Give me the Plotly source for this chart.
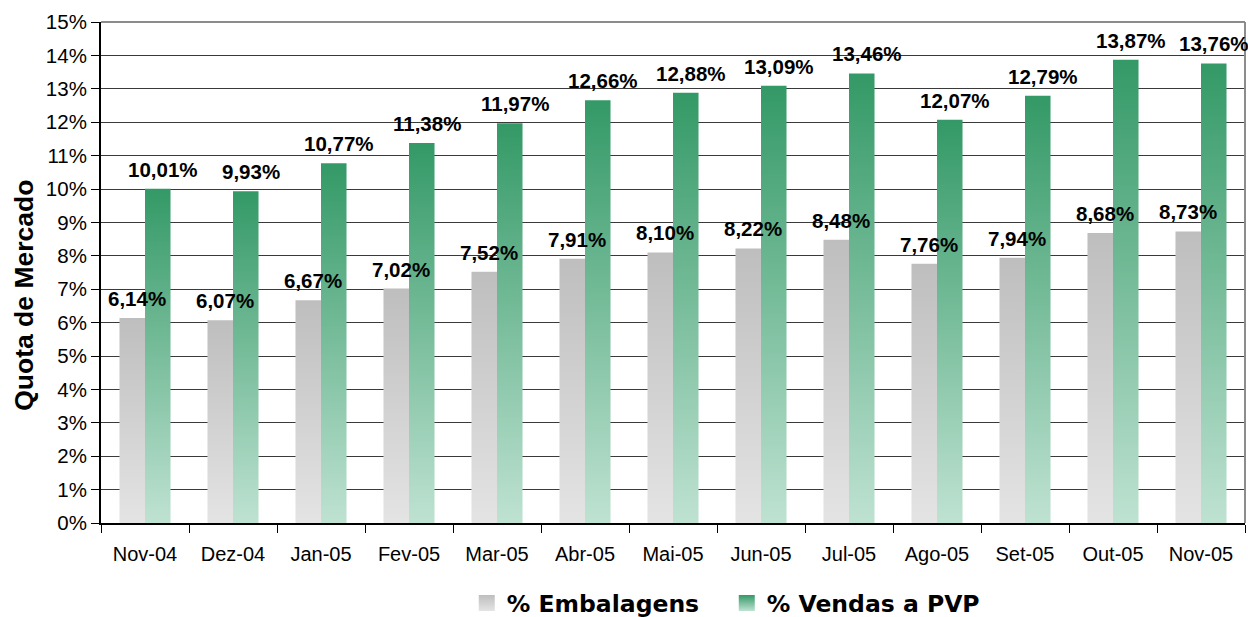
import plotly.graph_objects as go

categories = ["Nov-04", "Dez-04", "Jan-05", "Fev-05", "Mar-05", "Abr-05", "Mai-05",
              "Jun-05", "Jul-05", "Ago-05", "Set-05", "Out-05", "Nov-05"]
embalagens = [6.14, 6.07, 6.67, 7.02, 7.52, 7.91, 8.10, 8.22, 8.48, 7.76, 7.94, 8.68, 8.73]
vendas_pvp = [10.01, 9.93, 10.77, 11.38, 11.97, 12.66, 12.88, 13.09, 13.46, 12.07, 12.79, 13.87, 13.76]
y_ticks = list(range(0, 16))
y_tick_labels = [f"{t}%" for t in y_ticks]

series = [
    dict(name="% Embalagens", values=embalagens, offset=-0.145,
         top="#bebebe", bottom="#e4e4e4"),
    dict(name="% Vendas a PVP", values=vendas_pvp, offset=0.145,
         top="#339966", bottom="#bfe2d2"),
]
bar_w = 0.29

fig = go.Figure()
for s in series:
    for i, v in enumerate(s["values"]):
        c = i + s["offset"]
        x0, x1 = c - bar_w / 2, c + bar_w / 2
        fig.add_trace(go.Scatter(
            x=[x0, x1, x1, x0, x0], y=[0, 0, v, v, 0],
            mode="lines", fill="toself", line=dict(width=0),
            fillgradient=dict(type="vertical",
                              colorscale=[[0, s["bottom"]], [1, s["top"]]]),
            showlegend=False, hoverinfo="skip",
        ))

# legend entries (gradient square swatches)
for s in series:
    fig.add_trace(go.Scatter(
        x=[None], y=[None], mode="markers", name=s["name"],
        marker=dict(symbol="square", size=16, color=s["top"],
                    gradient=dict(type="vertical", color=s["bottom"])),
        showlegend=True, hoverinfo="skip",
    ))

def fmt(v):
    return f"{v:.2f}".replace(".", ",") + "%"

annotations = []
n = len(categories)
for s in series:
    for i, v in enumerate(s["values"]):
        annotations.append(dict(
            x=i + s["offset"], y=v, xref="x", yref="y",
            text=fmt(v), showarrow=False, xanchor="center", yanchor="bottom",
            xshift=(5 if i < n - 1 else 0), yshift=6,
            font=dict(family="Liberation Sans, Arial", size=20.5, color="black", weight="bold"),
        ))

annotations.append(dict(
    text="Quota de Mercado", xref="paper", yref="paper", x=-0.0675, y=0.455,
    xanchor="center", yanchor="middle", textangle=-90, showarrow=False,
    font=dict(family="Liberation Sans, Arial", size=26.5, color="black", weight="bold"),
))

fig.update_layout(
    width=1248, height=617,
    margin=dict(l=101, r=3, t=22, b=94, autoexpand=False),
    plot_bgcolor="white", paper_bgcolor="white",
    font=dict(family="Liberation Sans, Arial", size=20, color="black"),
    showlegend=True,
    legend=dict(orientation="h", x=0.547, xanchor="center", y=-0.16, yanchor="middle",
                font=dict(family="DejaVu Sans", size=23.5, color="black", weight="bold"),
                itemwidth=30, entrywidth=215, traceorder="normal"),
    xaxis=dict(
        range=[-0.5, 12.5], tickmode="array", tickvals=list(range(n)),
        ticktext=categories, ticks="", showgrid=False, zeroline=False,
        showline=True, linecolor="black", linewidth=2, automargin=False,
        tickfont=dict(size=20), ticklabelstandoff=12,
        minor=dict(tickmode="array", tickvals=[i - 0.5 for i in range(n + 1)],
                   ticks="outside", ticklen=8, tickcolor="black", tickwidth=1, showgrid=False),
    ),
    yaxis=dict(
        range=[0, 15], tickmode="array", tickvals=y_ticks, ticktext=y_tick_labels,
        ticks="outside", ticklen=8, tickcolor="black",
        showgrid=True, gridcolor="#3a3a3a", gridwidth=1, zeroline=False,
        showline=True, linecolor="black", linewidth=2, automargin=False,
        tickfont=dict(size=20.5),
    ),
    annotations=annotations,
    shapes=[
        dict(type="line", xref="paper", yref="paper", x0=0, x1=1, y0=1, y1=1,
             line=dict(color="#8c8c8c", width=2)),
        dict(type="line", xref="paper", yref="paper", x0=1, x1=1, y0=0, y1=1,
             line=dict(color="#8c8c8c", width=2)),
    ],
)

fig.write_html(
    "out.html",
    config={"displayModeBar": False},
    post_script="document.body.style.margin='0';document.body.style.overflow='hidden';",
)
